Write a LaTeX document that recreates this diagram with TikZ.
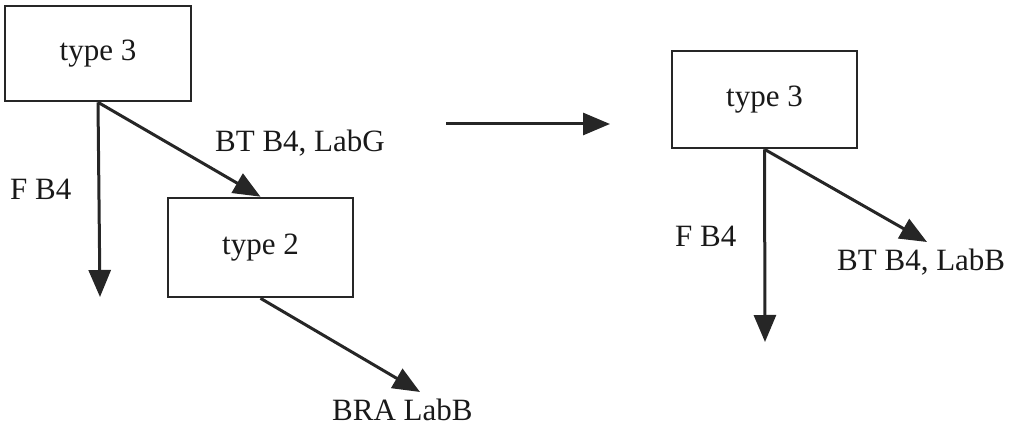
\documentclass[tikz,border=0pt]{standalone}
\usepackage{fontspec}
\setmainfont{Liberation Serif}
\usetikzlibrary{arrows.meta}
\begin{document}
\begin{tikzpicture}[x=1pt,y=-1pt,
  every node/.style={font=\fontsize{31}{36}\selectfont, text=black!90},
  typebox/.style={draw=black!85, line width=2.6pt, minimum width=#1, inner sep=0pt, fill=white},
  flow/.style={draw=black!85, line width=3pt, -{Triangle[length=27pt,width=22pt]}},
  lbl/.style={anchor=base west, inner sep=0pt}]
\useasboundingbox (0,0) rectangle (1012,430);

% left structure
\node[typebox=186pt, minimum height=95pt] (A) at (98,53.5) {type 3};
\node[typebox=185pt, minimum height=99pt] (B) at (260.5,247.5) {type 2};
\coordinate (Aend) at (100,297);
\coordinate (Bend) at (420,392);

\draw[flow] (A.south) -- (Aend);
\draw[flow] (A.south) -- (B.north);
\draw[flow] (B.south) -- (Bend);

\node[lbl] (fl) at (10,200) {F B4};
\node[lbl] (btl) at (215,152) {BT B4, LabG};
\node[lbl] (bra) at (332,420) {BRA LabB};

% transformation arrow
\coordinate (tA) at (446,124);
\coordinate (tB) at (610,124);
\draw[flow] (tA) -- (tB);

% right structure
\node[typebox=185pt, minimum height=97pt] (C) at (764.5,99.5) {type 3};
\coordinate (Cend) at (765,342);
\coordinate (Cdiag) at (927,242);
\draw[flow] (C.south) -- (Cend);
\draw[flow] (C.south) -- (Cdiag);

\node[lbl] (fr) at (675,247) {F B4};
\node[lbl] (btr) at (837,271) {BT B4, LabB};
\end{tikzpicture}
\end{document}
